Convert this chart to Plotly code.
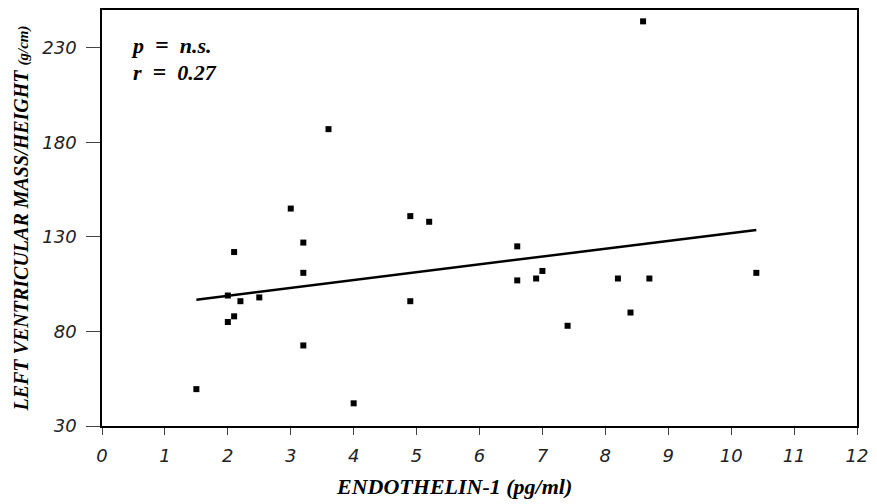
import plotly.graph_objects as go

# Data
endothelin = [1.5, 2.0, 2.1, 2.0, 2.2, 2.1, 2.5, 3.0, 3.2, 3.2, 3.2, 3.6, 4.0,
              4.9, 4.9, 5.2, 6.6, 6.6, 6.9, 7.0, 7.4, 8.2, 8.4, 8.7, 8.6, 10.4]
lvm_height = [49.5, 85, 88, 99, 96, 122, 98, 145, 127, 111, 72.6, 187, 42,
              141, 96, 138, 125, 107, 108, 112, 83, 108, 90, 108, 244, 111]
fit_x = [1.5, 10.4]
fit_y = [96.8, 133.7]
x_ticks = list(range(0, 13))
y_ticks = [30, 80, 130, 180, 230]

tick_font = dict(family="DejaVu Sans ExtraLight, DejaVu Sans", size=18, color="#222")
serif = "Liberation Serif"

fig = go.Figure()
fig.add_trace(go.Scatter(x=fit_x, y=fit_y, mode="lines",
                         line=dict(color="black", width=2.5), showlegend=False))
fig.add_trace(go.Scatter(x=endothelin, y=lvm_height, mode="markers",
                         marker=dict(symbol="square", size=6, color="black"),
                         showlegend=False))

fig.update_layout(
    width=877, height=504,
    margin=dict(l=102, r=20, t=8, b=78),
    plot_bgcolor="white", paper_bgcolor="white",
    xaxis=dict(range=[0, 12], tickvals=x_ticks, ticktext=[f"<i>{v}</i>" for v in x_ticks],
               showgrid=False, zeroline=False, showline=True, linecolor="black", linewidth=2,
               mirror=True, ticks="outside", ticklen=7, tickwidth=1, tickcolor="#444",
               tickfont=tick_font, ticklabelstandoff=5),
    yaxis=dict(range=[30, 250], tickvals=y_ticks, ticktext=[f"<i>{v}</i>" for v in y_ticks],
               showgrid=False, zeroline=False, showline=True, linecolor="black", linewidth=1.5,
               mirror=True, ticks="outside", ticklen=14, tickwidth=1, tickcolor="#444",
               tickfont=tick_font, ticklabelstandoff=6,
               title=dict(text="<b><i>LEFT VENTRICULAR MASS/HEIGHT <span style='font-size:15px'>(g/cm)</span></i></b>",
                          font=dict(family=serif, size=20, color="black"), standoff=8)),
)

# x-axis title (slightly left of centre, as in the reference)
fig.add_annotation(xref="paper", yref="paper", x=0.466, y=-0.145, xanchor="center", yanchor="middle",
                   text="<b><i>ENDOTHELIN-1 (pg/ml)</i></b>", showarrow=False,
                   font=dict(family=serif, size=22, color="black"))

eq = "&nbsp;&nbsp;<span style='font-size:24px'>=</span>&nbsp;&nbsp;"
stats = (f"<b><i><span style='font-size:22px'>p{eq}n.s.</span><br>"
         f"<span style='font-size:22px'>r{eq}0.27</span></i></b>")
fig.add_annotation(xref="paper", yref="paper", x=0.036, y=0.952, xanchor="left", yanchor="top",
                   text=stats, showarrow=False, align="left",
                   font=dict(family=serif, size=20.5, color="black"))

fig.write_html("out.html")
